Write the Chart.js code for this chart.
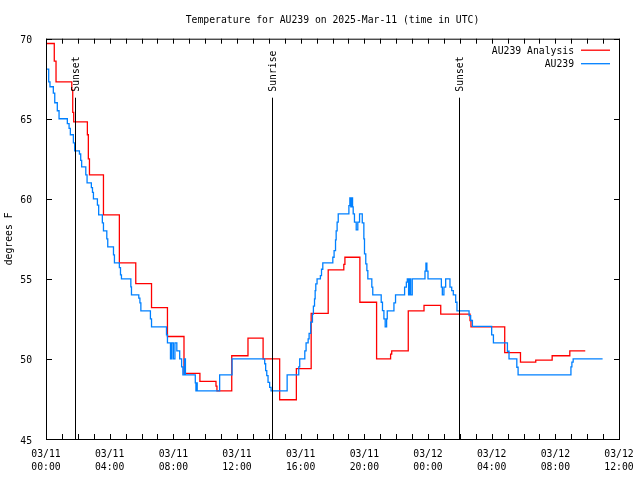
<!DOCTYPE html>
<html><head><meta charset="utf-8">
<script src="https://cdn.jsdelivr.net/npm/chart.js@4"></script>
<style>html,body{margin:0;padding:0;background:#fff}#wrap{width:640px;height:480px}</style>
</head><body><div id="wrap"><canvas id="c" width="640" height="480"></canvas></div>
<script>
const chartTitle = 'Temperature for AU239 on 2025-Mar-11 (time in UTC)';
const yAxisLabel = 'degrees F';
const seriesNames = ['AU239 Analysis', 'AU239'];
const seriesColors = ['#ff0000', '#0080ff'];

// hours since 03/11 00:00 UTC (value holds from that hour on)
const analysisHours = [0, 0.52, 0.63, 1.62, 1.68, 1.74, 2.60, 2.66, 2.73, 3.61, 4.61, 5.64, 6.63, 7.63, 8.67, 9.67, 10.68, 10.74, 11.67, 12.69, 13.64, 14.68, 15.73, 16.66, 17.73, 18.71, 18.78, 19.72, 20.77, 21.65, 21.72, 22.76, 23.75, 24.80, 26.64, 26.70, 28.82, 29.81, 30.77, 31.80, 32.91, 33.88];
const analysisTemps = [69.7, 68.6, 67.3, 66.8, 65.4, 64.8, 64.0, 62.5, 61.5, 59.0, 56.0, 54.7, 53.2, 51.4, 49.1, 48.6, 48.3, 48.0, 50.2, 51.3, 50.0, 47.45, 49.4, 52.85, 55.56, 55.9, 56.35, 53.54, 50.0, 50.3, 50.5, 53.0, 53.35, 52.8, 52.4, 52.0, 50.4, 49.8, 49.92, 50.2, 50.5, 50.5];

const obsHours = [0, 0.17, 0.25, 0.46, 0.55, 0.71, 0.82, 1.34, 1.45, 1.53, 1.72, 1.80, 2.10, 2.18, 2.24, 2.50, 2.58, 2.85, 2.92, 2.98, 3.23, 3.31, 3.54, 3.61, 3.82, 3.88, 4.24, 4.30, 4.61, 4.68, 4.74, 5.33, 5.37, 5.83, 5.90, 5.96, 6.56, 6.63, 7.57, 7.63, 7.82, 7.90, 8.00, 8.10, 8.22, 8.40, 8.52, 8.60, 8.70, 8.76, 9.38, 9.42, 9.45, 9.50, 10.91, 11.69, 13.74, 13.80, 13.87, 13.95, 14.05, 14.14, 14.22, 15.15, 15.88, 15.94, 16.26, 16.34, 16.47, 16.53, 16.63, 16.74, 16.80, 16.87, 16.91, 16.95, 17.03, 17.24, 17.31, 17.39, 18.02, 18.10, 18.19, 18.23, 18.29, 18.36, 19.03, 19.09, 19.15, 19.21, 19.26, 19.30, 19.38, 19.49, 19.59, 19.70, 19.87, 19.97, 20.01, 20.09, 20.16, 20.22, 20.47, 20.53, 21.06, 21.14, 21.23, 21.31, 21.40, 21.44, 21.86, 21.96, 22.53, 22.64, 22.70, 22.78, 22.84, 22.91, 23.01, 23.81, 23.87, 23.93, 24.00, 24.84, 24.90, 25.00, 25.11, 25.38, 25.49, 25.59, 25.74, 25.82, 26.58, 26.68, 26.79, 28.00, 28.11, 28.99, 29.09, 29.58, 29.66, 32.98, 33.04, 33.12, 34.97];
const obsTemps = [68.1, 67.3, 67.0, 66.6, 66.0, 65.5, 65.0, 64.7, 64.4, 64.0, 63.5, 63.0, 62.8, 62.4, 62.0, 61.5, 61.0, 60.7, 60.4, 60.0, 59.6, 59.0, 58.5, 58.0, 57.5, 57.0, 56.5, 56.0, 55.7, 55.25, 55.0, 54.5, 54.0, 53.8, 53.5, 53.0, 52.5, 52.0, 51.5, 51.0, 50.0, 51.0, 50.0, 51.0, 50.5, 50.0, 49.5, 49.0, 50.0, 49.0, 48.5, 48.0, 48.5, 48.0, 49.0, 50.0, 49.7, 49.27, 48.96, 48.54, 48.23, 48.0, 48.0, 49.0, 49.5, 50.0, 50.5, 51.0, 51.25, 51.6, 52.3, 52.8, 53.3, 53.75, 54.27, 54.69, 55.0, 55.2, 55.6, 56.0, 56.35, 56.77, 57.44, 58.0, 58.54, 59.06, 59.58, 60.06, 59.5, 60.06, 59.5, 59.06, 58.54, 58.06, 58.54, 59.06, 58.5, 57.5, 56.56, 55.94, 55.52, 55.0, 54.48, 54.0, 53.54, 53.02, 52.5, 52.0, 52.5, 53.0, 53.5, 54.0, 54.48, 54.8, 55.0, 54.0, 55.0, 54.0, 55.0, 55.48, 55.98, 55.48, 55.0, 54.48, 54.0, 54.48, 55.0, 54.48, 54.27, 54.0, 53.54, 53.0, 52.7, 52.4, 52.04, 51.5, 51.0, 50.48, 50.0, 49.48, 49.0, 49.5, 49.8, 50.0, 50.0];

const xTickHours = [0, 4, 8, 12, 16, 20, 24, 28, 32, 36];
const xTickDates = ['03/11', '03/11', '03/11', '03/11', '03/11', '03/11', '03/12', '03/12', '03/12', '03/12'];
const xTickTimes = ['00:00', '04:00', '08:00', '12:00', '16:00', '20:00', '00:00', '04:00', '08:00', '12:00'];
const yTicks = [45, 50, 55, 60, 65, 70];

const sunEventHours = [1.83, 14.2, 25.94];
const sunEventLabels = ['Sunset', 'Sunrise', 'Sunset'];

const FONT = '"DejaVu Sans Mono", "Liberation Mono", monospace';
const FS = 9.75;

const decor = {
  id: 'decor',
  afterDatasetsDraw(chart) {
    const { ctx, chartArea: a, scales: { x, y } } = chart;
    ctx.save();
    ctx.strokeStyle = '#000';
    ctx.lineWidth = 1;
    ctx.beginPath();
    for (let h = 0; h <= 36; h++) {
      const px = Math.round(x.getPixelForValue(h)) + 0.5;
      ctx.moveTo(px, a.bottom); ctx.lineTo(px, a.bottom - 5);
      ctx.moveTo(px, a.top); ctx.lineTo(px, a.top + 5);
    }
    yTicks.forEach(v => {
      const py = Math.round(y.getPixelForValue(v)) + 0.5;
      ctx.moveTo(a.left, py); ctx.lineTo(a.left + 6, py);
      ctx.moveTo(a.right + 1, py); ctx.lineTo(a.right - 5, py);
    });
    ctx.stroke();
    ctx.strokeRect(a.left + 0.5, a.top + 0.5, a.right - a.left, a.bottom - a.top);

    ctx.fillStyle = '#000';
    ctx.font = FS + 'px ' + FONT;
    sunEventHours.forEach((h, i) => {
      const px = Math.round(x.getPixelForValue(h)) + 0.5;
      ctx.beginPath();
      ctx.moveTo(px, a.top + 59); ctx.lineTo(px, a.bottom);
      ctx.stroke();
      ctx.save();
      ctx.translate(px + 1, a.top + 53);
      ctx.rotate(-Math.PI / 2);
      ctx.textAlign = 'left';
      ctx.textBaseline = 'middle';
      ctx.fillText(sunEventLabels[i], 0, 0);
      ctx.restore();
    });

    chart.data.datasets.forEach((ds, i) => {
      const ry = a.top + 11.5 + i * 13.5;
      ctx.fillStyle = '#000';
      ctx.textAlign = 'right';
      ctx.textBaseline = 'middle';
      ctx.fillText(ds.label, a.right - 45, ry + 1);
      ctx.strokeStyle = ds.borderColor;
      ctx.lineWidth = 1.3;
      ctx.beginPath();
      ctx.moveTo(a.right - 38, ry); ctx.lineTo(a.right - 9, ry);
      ctx.stroke();
    });
    ctx.restore();
  }
};

new Chart(document.getElementById('c'), {
  type: 'line',
  data: {
    datasets: [
      { label: seriesNames[0], data: analysisHours.map((h, i) => ({ x: h, y: analysisTemps[i] })),
        borderColor: seriesColors[0], borderWidth: 1.3, pointRadius: 0, stepped: 'before', fill: false, order: 2 },
      { label: seriesNames[1], data: obsHours.map((h, i) => ({ x: h, y: obsTemps[i] })),
        borderColor: seriesColors[1], borderWidth: 1.3, pointRadius: 0, stepped: 'before', fill: false, order: 1 }
    ]
  },
  options: {
    responsive: false,
    animation: false,
    devicePixelRatio: 1,
    layout: { padding: { left: 0, right: 21, top: 0, bottom: 0 } },
    plugins: {
      legend: { display: false },
      tooltip: { enabled: false },
      title: { display: true, text: chartTitle, fullSize: false, color: '#000',
        font: { family: FONT, size: FS, weight: 'normal', lineHeight: 1.2 },
        padding: { top: 15, bottom: 12 } }
    },
    scales: {
      x: {
        type: 'linear', min: 0, max: 36,
        afterBuildTicks: s => { s.ticks = xTickHours.map(v => ({ value: v })); },
        afterFit: s => { s.height = 41; },
        grid: { display: false }, border: { display: false },
        ticks: { autoSkip: false, maxRotation: 0, color: '#000', padding: 1,
          font: { family: FONT, size: FS, lineHeight: 1.35 },
          callback: (v) => { const i = xTickHours.indexOf(v); return [xTickDates[i], xTickTimes[i]]; } }
      },
      y: {
        min: 45, max: 70,
        afterBuildTicks: s => { s.ticks = yTicks.map(v => ({ value: v })); },
        afterFit: s => { s.width = 46; },
        grid: { display: false }, border: { display: false },
        ticks: { color: '#000', padding: 6, labelOffset: 2, font: { family: FONT, size: FS } },
        title: { display: true, text: yAxisLabel, color: '#000', font: { family: FONT, size: FS, lineHeight: 1.2 }, padding: { top: 4, bottom: 4 } }
      }
    }
  },
  plugins: [decor]
});
</script></body></html>
